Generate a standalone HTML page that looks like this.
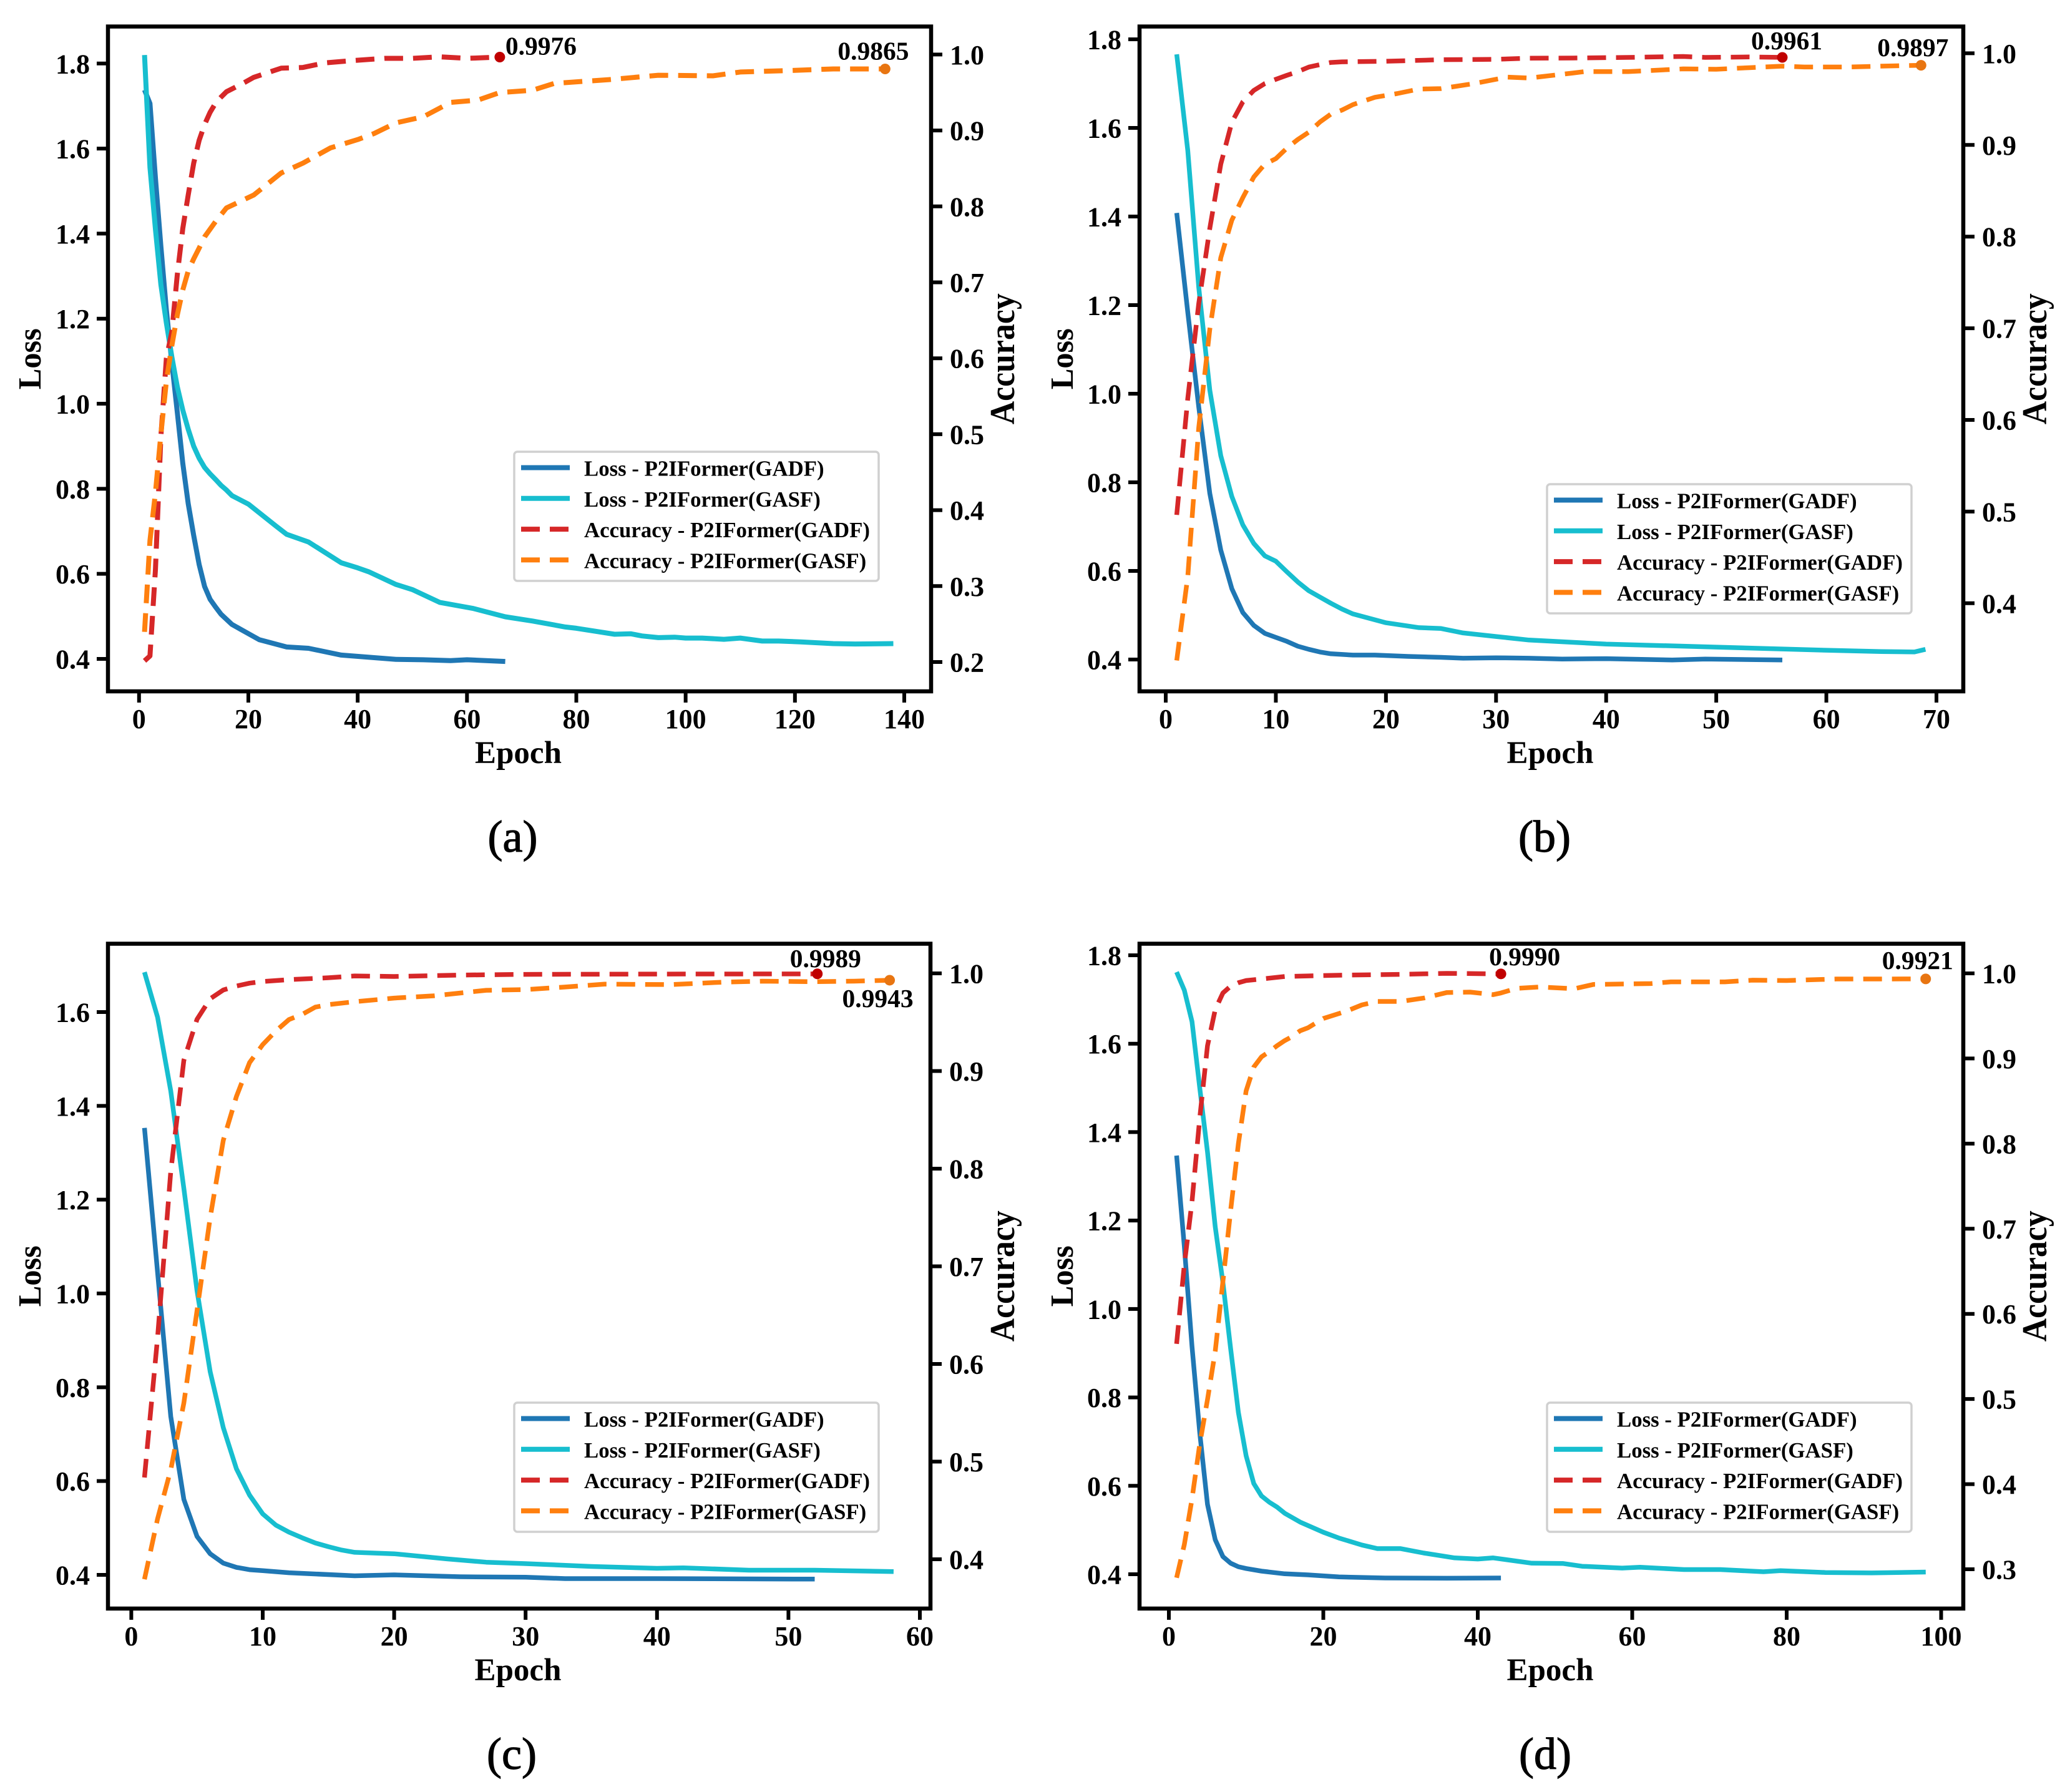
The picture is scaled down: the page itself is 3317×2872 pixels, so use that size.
<!DOCTYPE html>
<html lang="en">
<head>
<meta charset="utf-8">
<title>P2IFormer loss and accuracy curves</title>
<style>
html,body{margin:0;padding:0;background:#fff}
svg{display:block}
text{font-family:"Liberation Serif","Times New Roman",serif;fill:#000}
</style>
</head>
<body>
<svg id="figure" xmlns="http://www.w3.org/2000/svg" width="3317" height="2872" viewBox="0 0 3317 2872"></svg>
<script>
// ---- Panel (a) ----
const aXTicks=[0,20,40,60,80,100,120,140];
const aLossTicks=[0.4,0.6,0.8,1.0,1.2,1.4,1.6,1.8];
const aAccTicks=[0.2,0.3,0.4,0.5,0.6,0.7,0.8,0.9,1.0];
const aLossGadfEpochs=[1,2,3,4,5,6,7,8,9,10,11,12,13,14,15,17,22,27,31,37,41,47,52,57,60,67];
const aLossGadfValues=[1.738,1.706,1.53,1.37,1.22,1.096,0.98,0.86,0.765,0.69,0.622,0.57,0.54,0.522,0.505,0.481,0.445,0.428,0.425,0.409,0.405,0.399,0.398,0.396,0.398,0.394];
const aLossGasfEpochs=[1,2,3,4,5,6,7,8,9,10,11,12,13,14,15,16,17,20,25,27,31,37,40,42,47,50,55,61,67,72,78,80,87,90,92,95,98,100,103,107,110,114,117,121,127,131,138];
const aLossGasfValues=[1.82,1.556,1.41,1.28,1.19,1.11,1.04,0.985,0.94,0.9,0.872,0.85,0.835,0.822,0.808,0.797,0.784,0.764,0.713,0.693,0.675,0.626,0.614,0.605,0.575,0.563,0.533,0.519,0.499,0.489,0.475,0.472,0.458,0.459,0.454,0.45,0.451,0.449,0.449,0.446,0.449,0.442,0.442,0.44,0.436,0.435,0.436];
const aAccGadfEpochs=[1,2,3,4,5,6,7,8,9,10,11,12,13,14,15,16,19,21,26,30,34,39,45,50,55,60,66];
const aAccGadfValues=[0.2016,0.208,0.322,0.497,0.6,0.635,0.71,0.771,0.815,0.857,0.887,0.908,0.924,0.936,0.944,0.951,0.962,0.97,0.982,0.983,0.989,0.992,0.995,0.995,0.997,0.995,0.9966];
const aAccGasfEpochs=[1,2,3,4,5,6,7,8,9,10,11,12,14,16,21,26,30,35,40,43,47,52,57,62,66,72,76,86,95,105,110,119,127,136.5];
const aAccGasfValues=[0.2397,0.36,0.423,0.5,0.57,0.617,0.657,0.69,0.715,0.731,0.745,0.76,0.78,0.798,0.815,0.844,0.857,0.877,0.888,0.896,0.91,0.918,0.937,0.94,0.95,0.953,0.962,0.967,0.9727,0.972,0.977,0.979,0.981,0.981];
const aBestLabels=["0.9976","0.9865"];

// ---- Panel (b) ----
const bXTicks=[0,10,20,30,40,50,60,70];
const bLossTicks=[0.4,0.6,0.8,1.0,1.2,1.4,1.6,1.8];
const bAccTicks=[0.4,0.5,0.6,0.7,0.8,0.9,1.0];
const bLossGadfEpochs=[1,2,3,4,5,6,7,8,9,10,11,12,13,14,15,17,19,22,25,27,30,33,36,40,46,49,56];
const bLossGadfValues=[1.408,1.184,0.97,0.775,0.647,0.56,0.506,0.477,0.459,0.45,0.441,0.43,0.423,0.417,0.413,0.41,0.41,0.407,0.405,0.403,0.404,0.403,0.401,0.402,0.399,0.401,0.399];
const bLossGasfEpochs=[1,2,3,4,5,6,7,8,9,10,11,12,13,14,15,16,17,20,23,25,27,30,33,40,50,60,65,68,69];
const bLossGasfValues=[1.766,1.549,1.24,1.008,0.86,0.768,0.704,0.662,0.634,0.622,0.598,0.575,0.555,0.541,0.527,0.514,0.503,0.483,0.472,0.47,0.46,0.452,0.444,0.435,0.428,0.421,0.418,0.417,0.423];
const bAccGadfEpochs=[1,2,3,4,5,6,7,8,9,10,11,12,13,14,15,16,20,25,30,33,37,42,47,49,53,56];
const bAccGadfValues=[0.4964,0.6235,0.727,0.809,0.879,0.9247,0.947,0.9595,0.967,0.9716,0.976,0.98,0.985,0.9876,0.99,0.9907,0.9913,0.993,0.9934,0.9947,0.9948,0.9955,0.9965,0.9955,0.996,0.9955];
const bAccGasfEpochs=[1,2,3,4,5,6,7,8,9,10,11,12,13,14,15,16,17,19,21,23,25,28,31,33,37,38,42,47,50,53,56,58,62,65,68.6];
const bAccGasfValues=[0.3376,0.4292,0.5916,0.699,0.777,0.818,0.8425,0.865,0.879,0.885,0.8965,0.906,0.914,0.925,0.9336,0.938,0.944,0.952,0.956,0.961,0.9615,0.967,0.974,0.973,0.9785,0.98,0.98,0.983,0.9826,0.9843,0.986,0.985,0.985,0.986,0.9869];
const bBestLabels=["0.9961","0.9897"];

// ---- Panel (c) ----
const cXTicks=[0,10,20,30,40,50,60];
const cLossTicks=[0.4,0.6,0.8,1.0,1.2,1.4,1.6];
const cAccTicks=[0.4,0.5,0.6,0.7,0.8,0.9,1.0];
const cLossGadfEpochs=[1,2,3,4,5,6,7,8,9,10,12,17,20,25,30,33,40,52];
const cLossGadfValues=[1.353,1.045,0.738,0.561,0.482,0.445,0.425,0.416,0.411,0.409,0.4045,0.398,0.4,0.396,0.395,0.392,0.392,0.391];
const cLossGasfEpochs=[1,2,3,4,5,6,7,8,9,10,11,12,13,14,15,16,17,20,24,27,30,35,40,42,47,52,58];
const cLossGasfValues=[1.685,1.589,1.432,1.224,1.006,0.833,0.714,0.626,0.57,0.53,0.506,0.491,0.479,0.468,0.46,0.453,0.448,0.445,0.434,0.427,0.424,0.418,0.414,0.415,0.41,0.41,0.407];
const cAccGadfEpochs=[1,2,3,4,5,6,7,8,9,10,12,15,17,20,25,30,40,52.2];
const cAccGadfValues=[0.4837,0.627,0.797,0.911,0.953,0.974,0.983,0.987,0.99,0.9917,0.9936,0.9955,0.9974,0.9968,0.9983,0.999,0.9993,0.9995];
const cAccGasfEpochs=[1,2,3,4,5,6,7,8,9,10,11,12,13,14,15,17,20,23,27,30,33,36,41,45,48,52,55,57.7];
const cAccGasfValues=[0.3795,0.4414,0.4916,0.56,0.6546,0.75,0.829,0.874,0.9086,0.927,0.941,0.9527,0.958,0.9654,0.968,0.971,0.9747,0.977,0.9827,0.9834,0.986,0.989,0.9885,0.991,0.992,0.9915,0.992,0.993];
const cBestLabels=["0.9989","0.9943"];

// ---- Panel (d) ----
const dXTicks=[0,20,40,60,80,100];
const dLossTicks=[0.4,0.6,0.8,1.0,1.2,1.4,1.6,1.8];
const dAccTicks=[0.3,0.4,0.5,0.6,0.7,0.8,0.9,1.0];
const dLossGadfEpochs=[1,2,3,4,5,6,7,8,9,10,12,15,18,22,28,36,43];
const dLossGadfValues=[1.347,1.141,0.915,0.72,0.558,0.478,0.44,0.425,0.417,0.413,0.407,0.401,0.3986,0.394,0.3915,0.391,0.3915];
const dLossGasfEpochs=[1,2,3,4,5,6,7,8,9,10,11,12,13,14,15,17,20,22,25,27,30,33,37,40,42,47,51,53.5,58.7,61,66.7,71.4,77,79.2,85,91,98];
const dLossGasfValues=[1.762,1.721,1.65,1.5,1.355,1.186,1.06,0.91,0.766,0.668,0.605,0.577,0.563,0.552,0.538,0.518,0.495,0.482,0.466,0.458,0.458,0.448,0.437,0.4345,0.437,0.425,0.4244,0.418,0.414,0.416,0.4106,0.4106,0.4056,0.408,0.404,0.403,0.405];
const dAccGadfEpochs=[1,2,3,4,5,6,7,8,9,10,12,15,18,23,30,36,43];
const dAccGadfValues=[0.5648,0.6578,0.732,0.83,0.915,0.9575,0.977,0.985,0.989,0.9916,0.9934,0.9963,0.997,0.998,0.9988,1.0,0.9994];
const dAccGasfEpochs=[1,2,3,4,5,6,7,8,9,10,11,12,13,14,15,16,17,18,20,23,25,27,30,33,36,39,42,43,45,48,52.5,55,62.4,65,72,75.6,80,86.5,98];
const dAccGasfValues=[0.29,0.329,0.3827,0.447,0.4993,0.556,0.638,0.7216,0.8,0.862,0.89,0.902,0.908,0.915,0.921,0.926,0.9326,0.936,0.947,0.9556,0.963,0.967,0.967,0.971,0.9775,0.978,0.975,0.977,0.9824,0.984,0.982,0.987,0.988,0.99,0.99,0.992,0.9916,0.9934,0.9935];
const dBestLabels=["0.9990","0.9921"];

const legendLabels=["Loss - P2IFormer(GADF)","Loss - P2IFormer(GASF)","Accuracy - P2IFormer(GADF)","Accuracy - P2IFormer(GASF)"];

const NS="http://www.w3.org/2000/svg";
const svg=document.getElementById("figure");
const BLUE="#1f77b4",CYAN="#17becf",RED="#d62728",ORANGE="#ff7f0e";
const DASH="30 16";

function mk(parent,tag,attrs,txt){
  const el=document.createElementNS(NS,tag);
  for(const k in attrs){el.setAttribute(k,attrs[k]);}
  if(txt!==undefined){el.textContent=txt;}
  parent.appendChild(el);
  return el;
}
function linear(d0,d1,r0,r1){return function(v){return r0+(v-d0)*(r1-r0)/(d1-d0);};}
function fmt(v){return v.toFixed(1);}

const panels=[
 {id:"a",letter:"(a)",L:173,R:1492,T:42.5,B:1108,lw:8,
  x:linear(0,140,222.8,1449),yL:linear(0.4,1.8,1056,101.8),yR:linear(0.2,1.0,1061,87.4),
  xTicks:aXTicks,lossTicks:aLossTicks,accTicks:aAccTicks,
  lg:[aLossGadfEpochs,aLossGadfValues],ls:[aLossGasfEpochs,aLossGasfValues],ag:[aAccGadfEpochs,aAccGadfValues],as:[aAccGasfEpochs,aAccGasfValues],
  labels:aBestLabels,off:[[9,-4],[-76,-15]],legend:[824,724],letterX:821.5,letterY:1365,lossX:65,accX:1625},
 {id:"b",letter:"(b)",L:1826,R:3146,T:42.5,B:1108,lw:7.5,
  x:linear(0,70,1868,3103),yL:linear(0.4,1.8,1057,63),yR:linear(0.6,1.0,673,85.4),
  xTicks:bXTicks,lossTicks:bLossTicks,accTicks:bAccTicks,
  lg:[bLossGadfEpochs,bLossGadfValues],ls:[bLossGasfEpochs,bLossGasfValues],ag:[bAccGadfEpochs,bAccGadfValues],as:[bAccGasfEpochs,bAccGasfValues],
  labels:bBestLabels,off:[[-50,-13],[-70,-14.5]],legend:[2479,776],letterX:2475,letterY:1365,lossX:1719,accX:3279},
 {id:"c",letter:"(c)",L:173,R:1491,T:1512.5,B:2578,lw:7.5,
  x:linear(0,60,210.4,1474),yL:linear(0.4,1.6,2524,1622),yR:linear(0.6,1.0,2186,1560),
  xTicks:cXTicks,lossTicks:cLossTicks,accTicks:cAccTicks,
  lg:[cLossGadfEpochs,cLossGadfValues],ls:[cLossGasfEpochs,cLossGasfValues],ag:[cAccGadfEpochs,cAccGadfValues],as:[cAccGasfEpochs,cAccGasfValues],
  labels:cBestLabels,off:[[-44,-11],[-76,43]],legend:[824,2248],letterX:820,letterY:2835,lossX:65,accX:1625},
 {id:"d",letter:"(d)",L:1826,R:3146,T:1512.5,B:2578,lw:7.5,
  x:linear(0,100,1873,3110.5),yL:linear(0.4,1.8,2523,1531),yR:linear(0.3,1.0,2515,1560),
  xTicks:dXTicks,lossTicks:dLossTicks,accTicks:dAccTicks,
  lg:[dLossGadfEpochs,dLossGadfValues],ls:[dLossGasfEpochs,dLossGasfValues],ag:[dAccGadfEpochs,dAccGadfValues],as:[dAccGasfEpochs,dAccGasfValues],
  labels:dBestLabels,off:[[-19,-14],[-70,-16]],legend:[2479,2248],letterX:2476,letterY:2835,lossX:1719,accX:3279}
];

function seriesPath(xs,ys,xf,yf){
  let d="";
  for(let i=0;i<xs.length;i++){
    d+=(i?"L":"M")+xf(xs[i]).toFixed(1)+" "+yf(ys[i]).toFixed(1);
  }
  return d;
}

panels.forEach(function(p){
  const g=mk(svg,"g",{});
  
  

  // loss curves (left axis)
  const lossG=mk(g,"path",{d:seriesPath(p.lg[0],p.lg[1],p.x,p.yL),fill:"none",stroke:BLUE,"stroke-width":p.lw,"stroke-linejoin":"round"});
  
  
  const lossS=mk(g,"path",{d:seriesPath(p.ls[0],p.ls[1],p.x,p.yL),fill:"none",stroke:CYAN,"stroke-width":p.lw,"stroke-linejoin":"round"});
  
  

  // accuracy curves (right axis)
  const accG=mk(g,"path",{d:seriesPath(p.ag[0],p.ag[1],p.x,p.yR),fill:"none",stroke:RED,"stroke-width":p.lw,"stroke-dasharray":DASH,"stroke-linejoin":"round"});
  
  
  const accS=mk(g,"path",{d:seriesPath(p.as[0],p.as[1],p.x,p.yR),fill:"none",stroke:ORANGE,"stroke-width":p.lw,"stroke-dasharray":DASH,"stroke-linejoin":"round"});
  
  

  // best-value markers sit on the last accuracy point
  const gx=p.x(p.ag[0][p.ag[0].length-1]),gy=p.yR(p.ag[1][p.ag[1].length-1]);
  const sx=p.x(p.as[0][p.as[0].length-1]),sy=p.yR(p.as[1][p.as[1].length-1]);
  const mg=mk(g,"circle",{cx:gx,cy:gy,r:8.5,fill:"#c00000"});
  
  
  const ms=mk(g,"circle",{cx:sx,cy:sy,r:8.5,fill:"#e87511"});
  
  
  const lg=mk(g,"text",{x:gx+p.off[0][0],y:gy+p.off[0][1],"font-size":41.5,"font-weight":"bold"},p.labels[0]);
  
  
  const ls=mk(g,"text",{x:sx+p.off[1][0],y:sy+p.off[1][1],"font-size":41.5,"font-weight":"bold"},p.labels[1]);
  
  

  // legend
  const lgX=p.legend[0],lgY=p.legend[1];
  const legend=mk(g,"g",{});
  
  
  mk(legend,"rect",{x:lgX,y:lgY,width:584,height:207,rx:5,ry:5,fill:"#fff","fill-opacity":0.8,stroke:"#d0d0d0","stroke-width":3.5});
  const legendColors=[BLUE,CYAN,RED,ORANGE];
  legendLabels.forEach(function(label,i){
    const ly=lgY+25.5+i*49.3;
    const entry=mk(legend,"g",{});
    
    
    const attrs={x1:lgX+11,x2:lgX+89,y1:ly,y2:ly,stroke:legendColors[i],"stroke-width":8};
    if(i>1){attrs["stroke-dasharray"]=DASH;}
    mk(entry,"line",attrs);
    mk(entry,"text",{x:lgX+112,y:ly+13,"font-size":34.8,"font-weight":"bold"},label);
  });

  // x ticks
  p.xTicks.forEach(function(v){
    const x=p.x(v);
    const t=mk(g,"line",{x1:x,x2:x,y1:p.B,y2:p.B+18,stroke:"#000","stroke-width":6});
    
    
    const l=mk(g,"text",{x:x,y:p.B+59,"font-size":44,"font-weight":"bold","text-anchor":"middle"},String(v));
    
    
  });
  // left ticks
  p.lossTicks.forEach(function(v){
    const y=p.yL(v);
    const t=mk(g,"line",{x1:p.L-18,x2:p.L,y1:y,y2:y,stroke:"#000","stroke-width":6});
    
    
    const l=mk(g,"text",{x:p.L-29,y:y+15.5,"font-size":44,"font-weight":"bold","text-anchor":"end"},fmt(v));
    
    
  });
  // right ticks
  p.accTicks.forEach(function(v){
    const y=p.yR(v);
    const t=mk(g,"line",{x1:p.R,x2:p.R+18,y1:y,y2:y,stroke:"#000","stroke-width":6});
    
    
    const l=mk(g,"text",{x:p.R+30,y:y+15.5,"font-size":44,"font-weight":"bold"},fmt(v));
    
    
  });

  // frame
  const frame=mk(g,"rect",{x:p.L,y:p.T,width:p.R-p.L,height:p.B-p.T,fill:"none",stroke:"#000","stroke-width":6.5});
  
  

  // axis titles
  const cx=(p.L+p.R)/2,cy=(p.T+p.B)/2;
  const ex=mk(g,"text",{x:cx-2,y:p.B+115,"font-size":51,"font-weight":"bold","text-anchor":"middle"},"Epoch");
  
  
  const ly=mk(g,"text",{x:0,y:0,"font-size":52,"font-weight":"bold","text-anchor":"middle",textLength:98,lengthAdjust:"spacingAndGlyphs",transform:"translate("+p.lossX+" "+cy+") rotate(-90)"},"Loss");
  
  
  const ay=mk(g,"text",{x:0,y:0,"font-size":56,"font-weight":"bold","text-anchor":"middle",textLength:210,lengthAdjust:"spacingAndGlyphs",transform:"translate("+p.accX+" "+cy+") rotate(-90)"},"Accuracy");
  
  

  // panel letter
  const pl=mk(g,"text",{x:p.letterX,y:p.letterY,"font-size":72,"text-anchor":"middle",stroke:"#000","stroke-width":1.2},p.letter);
  
  
});
</script>
</body>
</html>
